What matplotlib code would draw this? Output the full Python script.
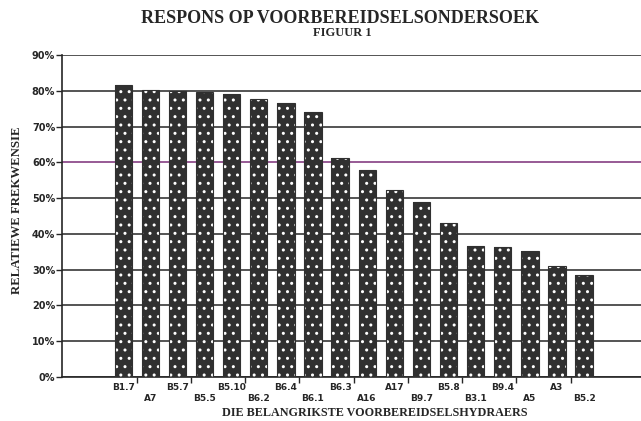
import numpy as np
from matplotlib import pyplot as plt

categories = ["B1.7", "A7", "B5.7", "B5.5", "B5.10", "B6.2", "B6.4", "B6.1", "B6.3",
              "A16", "A17", "B9.7", "B5.8", "B3.1", "B9.4", "A5", "A3", "B5.2"]
values = [81.5, 80.3, 80.0, 79.8, 79.0, 77.7, 76.6, 74.0, 61.2,
          58.0, 52.4, 48.8, 43.0, 36.5, 36.4, 35.2, 31.0, 28.5]
yticks = [0, 10, 20, 30, 40, 50, 60, 70, 80, 90]

serif = "Liberation Serif"
ink = "#262626"

fig = plt.figure(figsize=(6.41, 4.21), dpi=100)
ax = fig.add_axes([0.097, 0.1045, 0.903, 0.7648])

x = np.arange(len(categories))
ax.bar(x, values, width=0.64, color="#303030", edgecolor="white", hatch="..",
       linewidth=0, zorder=3)
ax.bar(x, values, width=0.64, fill=False, edgecolor="#303030", linewidth=0.8, zorder=4)

ax.set_xlim(-2.25, len(categories) + 1.1)
ax.set_ylim(0, 90)
ax.set_yticks(yticks)
ax.set_yticklabels([f"{t}%" for t in yticks], fontsize=7, fontweight="bold", color=ink)
ax.yaxis.grid(True, color=ink, linewidth=1.1, zorder=1)
for t, line in zip(yticks, ax.get_ygridlines()):
    if t == 60:
        line.set_color("#7b2d78")
ax.tick_params(axis="y", length=4, width=1, color=ink, pad=1)

ax.set_xticks(x)
ax.set_xticklabels([("\n" if i % 2 else "") + c for i, c in enumerate(categories)],
                   fontsize=6.5, fontweight="bold", color=ink, linespacing=1.3)
ax.tick_params(axis="x", which="major", length=0, pad=4)
ax.set_xticks(x[::2] + 0.5, minor=True)
ax.tick_params(axis="x", which="minor", length=4, width=1, color=ink)

for side in ["top", "right"]:
    ax.spines[side].set_visible(False)
for side in ["left", "bottom"]:
    ax.spines[side].set_color(ink)
    ax.spines[side].set_linewidth(1.2)

fig.text(0.531, 0.955, "RESPONS OP VOORBEREIDSELSONDERSOEK", ha="center", va="center",
         family=serif, fontsize=13, fontweight="bold", color=ink)
fig.text(0.534, 0.921, "FIGUUR 1", ha="center", va="center",
         family=serif, fontsize=9, fontweight="bold", color=ink)
fig.text(0.027, 0.5, "RELATIEWE FREKWENSIE", ha="center", va="center", rotation=90,
         family=serif, fontsize=9.2, fontweight="bold", color=ink)
fig.text(0.585, 0.018, "DIE BELANGRIKSTE VOORBEREIDSELSHYDRAERS", ha="center", va="center",
         family=serif, fontsize=8.7, fontweight="bold", color=ink)

fig.savefig("out.png", dpi=100)
